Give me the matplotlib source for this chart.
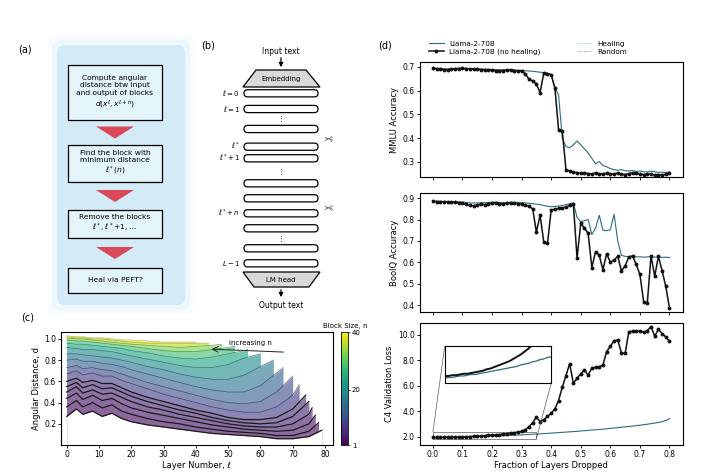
import numpy as np
import matplotlib
matplotlib.use("Agg")
import matplotlib.pyplot as plt
import matplotlib.colors as mcolors
from matplotlib.patches import FancyBboxPatch, Polygon, FancyArrowPatch
from matplotlib.lines import Line2D
from mpl_toolkits.axes_grid1.inset_locator import mark_inset

# ---------------- panel (d): Llama-2-70B, one point per dropped layer ----------------
n_layers = 80
frac_dropped = np.arange(0, 65) / n_layers

mmlu_no_heal = [0.694, 0.693, 0.692, 0.688, 0.686, 0.690, 0.692, 0.693, 0.694, 0.693,
                0.692, 0.691, 0.690, 0.689, 0.688, 0.687, 0.686, 0.684, 0.683, 0.685,
                0.686, 0.687, 0.685, 0.684, 0.683, 0.672, 0.648, 0.642, 0.628, 0.592,
                0.675, 0.671, 0.668, 0.612, 0.435, 0.432, 0.268, 0.262, 0.258, 0.255,
                0.252, 0.254, 0.251, 0.250, 0.253, 0.249, 0.251, 0.252, 0.248, 0.250,
                0.253, 0.249, 0.247, 0.251, 0.255, 0.252, 0.249, 0.247, 0.250, 0.248,
                0.246, 0.247, 0.245, 0.248, 0.252]
mmlu_heal = [0.695, 0.694, 0.694, 0.693, 0.692, 0.693, 0.694, 0.695, 0.694, 0.694,
             0.693, 0.693, 0.692, 0.691, 0.691, 0.690, 0.689, 0.689, 0.688, 0.688,
             0.689, 0.688, 0.687, 0.686, 0.686, 0.684, 0.683, 0.682, 0.680, 0.678,
             0.676, 0.674, 0.665, 0.612, 0.583, 0.400, 0.365, 0.360, 0.372, 0.388,
             0.372, 0.355, 0.338, 0.315, 0.292, 0.302, 0.285, 0.280, 0.272, 0.268,
             0.265, 0.268, 0.263, 0.262, 0.264, 0.260, 0.262, 0.259, 0.258, 0.261,
             0.259, 0.256, 0.257, 0.255, 0.258]

boolq_no_heal = [0.885, 0.884, 0.884, 0.883, 0.882, 0.881, 0.880, 0.879, 0.876, 0.871,
                 0.866, 0.864, 0.868, 0.872, 0.870, 0.874, 0.878, 0.879, 0.875, 0.872,
                 0.876, 0.879, 0.878, 0.875, 0.872, 0.868, 0.862, 0.850, 0.742, 0.820,
                 0.695, 0.688, 0.845, 0.848, 0.852, 0.855, 0.858, 0.866, 0.872, 0.620,
                 0.782, 0.760, 0.735, 0.575, 0.650, 0.632, 0.565, 0.640, 0.600, 0.610,
                 0.628, 0.560, 0.583, 0.625, 0.630, 0.590, 0.543, 0.416, 0.410, 0.630,
                 0.535, 0.628, 0.560, 0.487, 0.385]
boolq_heal = [0.886, 0.886, 0.885, 0.885, 0.884, 0.884, 0.883, 0.883, 0.882, 0.880,
              0.878, 0.877, 0.878, 0.879, 0.879, 0.880, 0.881, 0.881, 0.880, 0.879,
              0.880, 0.881, 0.881, 0.880, 0.879, 0.878, 0.876, 0.874, 0.872, 0.870,
              0.866, 0.862, 0.860, 0.861, 0.863, 0.866, 0.870, 0.874, 0.878, 0.810,
              0.790, 0.795, 0.800, 0.730, 0.760, 0.820, 0.750, 0.748, 0.752, 0.825,
              0.700, 0.632, 0.628, 0.626, 0.627, 0.625, 0.626, 0.624, 0.625, 0.626,
              0.624, 0.625, 0.623, 0.624, 0.622]

c4_no_heal = [1.95, 1.95, 1.96, 1.96, 1.97, 1.98, 1.98, 1.99, 2.00, 2.01,
              2.02, 2.04, 2.05, 2.07, 2.09, 2.11, 2.13, 2.15, 2.18, 2.21,
              2.24, 2.28, 2.32, 2.37, 2.42, 2.55, 2.80, 3.10, 3.55, 3.20,
              3.35, 3.60, 3.85, 4.20, 4.85, 5.90, 6.80, 7.75, 6.20, 6.60,
              6.95, 7.25, 6.85, 7.40, 7.45, 7.50, 7.65, 8.70, 9.10, 9.55,
              9.60, 8.60, 8.55, 10.25, 10.30, 10.28, 10.30, 10.20, 10.35, 10.65,
              9.90, 10.45, 10.10, 9.85, 9.50]
c4_heal = [1.92, 1.93, 1.93, 1.94, 1.95, 1.95, 1.96, 1.97, 1.97, 1.98,
           1.99, 2.00, 2.01, 2.02, 2.03, 2.04, 2.05, 2.06, 2.07, 2.08,
           2.10, 2.11, 2.12, 2.14, 2.15, 2.17, 2.18, 2.20, 2.21, 2.23,
           2.25, 2.27, 2.29, 2.31, 2.33, 2.35, 2.37, 2.39, 2.41, 2.43,
           2.46, 2.48, 2.50, 2.53, 2.55, 2.58, 2.60, 2.63, 2.66, 2.69,
           2.72, 2.75, 2.78, 2.81, 2.84, 2.88, 2.91, 2.95, 2.99, 3.03,
           3.08, 3.13, 3.19, 3.28, 3.42]

# ---------------- panel (c): angular distance d(l, n), read at these layers ----------------
# last value of every list is the curve end at l = 80 - n
ells = [0, 3, 5, 8, 11, 14, 17, 20, 25, 30, 35, 40, 45, 50, 55, 60, 65, 70, 75]
d_n1 = [0.27, 0.34, 0.29, 0.32, 0.27, 0.30, 0.25, 0.22, 0.19, 0.17, 0.15, 0.13, 0.11, 0.10, 0.09, 0.08, 0.06, 0.06, 0.08, 0.14]
d_n2 = [0.36, 0.42, 0.36, 0.40, 0.35, 0.38, 0.32, 0.29, 0.25, 0.22, 0.20, 0.17, 0.15, 0.13, 0.12, 0.11, 0.09, 0.09, 0.13, 0.21]
d_n3 = [0.44, 0.49, 0.43, 0.47, 0.42, 0.44, 0.39, 0.35, 0.31, 0.28, 0.25, 0.22, 0.19, 0.17, 0.15, 0.14, 0.13, 0.14, 0.20, 0.28]
d_n4 = [0.50, 0.55, 0.49, 0.52, 0.48, 0.49, 0.45, 0.41, 0.36, 0.33, 0.29, 0.26, 0.23, 0.20, 0.18, 0.17, 0.17, 0.20, 0.29, 0.35]
d_n5 = [0.55, 0.59, 0.54, 0.57, 0.53, 0.54, 0.50, 0.46, 0.41, 0.37, 0.33, 0.30, 0.26, 0.23, 0.21, 0.20, 0.21, 0.27, 0.41]
d_n6 = [0.60, 0.63, 0.59, 0.61, 0.58, 0.58, 0.54, 0.50, 0.45, 0.41, 0.37, 0.33, 0.30, 0.26, 0.24, 0.24, 0.26, 0.34, 0.47]
d_n8 = [0.67, 0.70, 0.66, 0.68, 0.65, 0.65, 0.61, 0.58, 0.53, 0.48, 0.44, 0.40, 0.36, 0.33, 0.31, 0.31, 0.36, 0.47, 0.57]
d_n10 = [0.73, 0.75, 0.72, 0.73, 0.71, 0.70, 0.67, 0.64, 0.59, 0.55, 0.51, 0.47, 0.43, 0.40, 0.39, 0.41, 0.50, 0.65]
d_n13 = [0.80, 0.81, 0.79, 0.79, 0.77, 0.76, 0.74, 0.71, 0.67, 0.63, 0.59, 0.55, 0.52, 0.50, 0.50, 0.56, 0.68, 0.73]
d_n16 = [0.86, 0.86, 0.85, 0.84, 0.83, 0.82, 0.80, 0.78, 0.74, 0.71, 0.67, 0.64, 0.62, 0.62, 0.66, 0.74, 0.80]
d_n20 = [0.92, 0.91, 0.90, 0.90, 0.89, 0.88, 0.86, 0.84, 0.81, 0.78, 0.75, 0.73, 0.73, 0.76, 0.82, 0.86]
d_n24 = [0.96, 0.95, 0.95, 0.94, 0.93, 0.92, 0.91, 0.89, 0.87, 0.84, 0.82, 0.81, 0.83, 0.86, 0.89, 0.90]
d_n28 = [0.99, 0.98, 0.98, 0.97, 0.96, 0.95, 0.94, 0.93, 0.91, 0.89, 0.88, 0.88, 0.90, 0.92, 0.93]
d_n32 = [1.01, 1.00, 1.00, 0.99, 0.98, 0.97, 0.96, 0.95, 0.94, 0.93, 0.92, 0.93, 0.94, 0.95]
d_n36 = [1.02, 1.01, 1.01, 1.00, 1.00, 0.99, 0.98, 0.97, 0.96, 0.96, 0.96, 0.96, 0.96]
d_n40 = [1.03, 1.02, 1.02, 1.01, 1.01, 1.00, 0.99, 0.99, 0.98, 0.97, 0.97, 0.97]
curves = [(1, d_n1), (2, d_n2), (3, d_n3), (4, d_n4), (5, d_n5), (6, d_n6), (8, d_n8),
          (10, d_n10), (13, d_n13), (16, d_n16), (20, d_n20), (24, d_n24),
          (28, d_n28), (32, d_n32), (36, d_n36), (40, d_n40)]

flow_texts = ["Compute angular\ndistance btw input\nand output of blocks\n$d(x^{\\ell}, x^{\\ell+n})$",
              "Find the block with\nminimum distance\n$\\ell^*(n)$",
              "Remove the blocks\n$\\ell^*, \\ell^*\\!+\\!1, \\ldots$",
              "Heal via PEFT?"]
layer_labels = {0: "$\\ell=0$", 1: "$\\ell=1$", 3: "$\\ell^*$", 4: "$\\ell^*\\!+1$",
                7: "$\\ell^*\\!+n$", 10: "$L-1$"}

fs = 5.5
fig = plt.figure(figsize=(7.08, 4.75), dpi=100)

# sketch layer in pixel coordinates for (a) and (b)
sk = fig.add_axes([0, 0, 1, 1])
sk.set_xlim(0, 708)
sk.set_ylim(475, 0)
sk.axis("off")

# ---- (a) flow chart ----
for pad, a in [(9, 0.12), (5, 0.25), (0, 0.9)]:
    sk.add_patch(FancyBboxPatch((57 - pad, 45 - pad), 128 + 2 * pad, 260 + 2 * pad,
                                boxstyle="round,pad=0,rounding_size=8",
                                fc="#cfeaf7", ec="none", alpha=a))
box_tops = [65, 145, 210, 268]
box_bots = [120, 182, 238, 293]
for t, b, txt in zip(box_tops, box_bots, flow_texts):
    sk.add_patch(FancyBboxPatch((68, t), 94, b - t, boxstyle="square,pad=0",
                                fc="#e4f4fb", ec="black", lw=0.9))
    sk.text(115, (t + b) / 2, txt, ha="center", va="center", fontsize=5.4, linespacing=1.25)
for i in range(3):
    ym = (box_bots[i] + box_tops[i + 1]) / 2
    sk.add_patch(Polygon([[96, ym - 6], [134, ym - 6], [115, ym + 6]], closed=True,
                         fc="#d9495a", ec="none"))
sk.text(25, 50, "(a)", fontsize=7, ha="center", va="center")

# ---- (b) network schematic ----
sk.text(208, 45, "(b)", fontsize=7, ha="center", va="center")
sk.text(281, 51, "Input text", fontsize=fs, ha="center", va="center")
sk.add_patch(FancyArrowPatch((281, 55), (281, 70), arrowstyle="-|>", mutation_scale=6,
                             color="black", lw=0.9))
sk.add_patch(Polygon([[256, 70], [306, 70], [320, 87], [243, 87]], closed=True,
                     fc="#d9d9d9", ec="black", lw=0.9))
sk.text(281, 79, "Embedding", fontsize=5, ha="center", va="center")
layer_y = [93.3, 109, 129, 146.7, 158.3, 183.3, 198.3, 213.3, 228.3, 248.3, 263.3]
for i, y in enumerate(layer_y):
    sk.add_patch(FancyBboxPatch((244, y - 3.6), 74, 7.2,
                                boxstyle="round,pad=0,rounding_size=3.6",
                                fc="white", ec="black", lw=0.9))
    if i in layer_labels:
        sk.text(240, y, layer_labels[i], fontsize=5, ha="right", va="center")
for y in [118.5, 171, 238.5]:
    sk.text(281, y, "\u22ee", fontsize=5, ha="center", va="center")
for y in [136, 205]:
    sk.text(328, y, "\u2702", fontsize=8, ha="center", va="center", rotation=180,
            color="#444444")
sk.add_patch(Polygon([[243, 272], [320, 272], [309, 287], [254, 287]], closed=True,
                     fc="#d9d9d9", ec="black", lw=0.9))
sk.text(281, 280, "LM head", fontsize=5, ha="center", va="center")
sk.add_patch(FancyArrowPatch((281, 287), (281, 300), arrowstyle="-|>", mutation_scale=6,
                             color="black", lw=0.9))
sk.text(281, 306, "Output text", fontsize=fs, ha="center", va="center")

# ---- (c) angular distance ----
axc = fig.add_axes([0.086, 0.063, 0.384, 0.238])
cmap = plt.get_cmap("viridis")
norm = mcolors.Normalize(1, 40)
for n, vals in sorted(curves, key=lambda c: -c[0]):
    xs = [l for l in ells if l < n_layers - n] + [n_layers - n]
    col = np.array(cmap(norm(n))[:3]) * 0.62 + 0.38
    axc.fill_between(xs, 0, vals, color=col, lw=0, zorder=1)
xs1 = [l for l in ells if l < n_layers - 1] + [n_layers - 1]
axc.fill_between(xs1, 0, d_n1, color="white", lw=0, zorder=1)
for n, vals in curves:
    xs = [l for l in ells if l < n_layers - n] + [n_layers - n]
    if n <= 6:
        axc.plot(xs, vals, color="#1a1a1a", lw=0.9, zorder=3)
    else:
        axc.plot(xs, vals, color=np.array(cmap(norm(n))[:3]) * 0.7, lw=0.5, alpha=0.8, zorder=2)
axc.annotate("", xy=(44, 0.905), xytext=(68, 0.875),
             arrowprops=dict(arrowstyle="->", lw=0.7, color="#222222"))
axc.text(57, 0.965, "increasing n", fontsize=5, ha="center", va="center")
axc.set_xlim(-1.8, 82.4)
axc.set_ylim(0, 1.065)
axc.set_xticks(range(0, 81, 10))
axc.set_yticks([0.2, 0.4, 0.6, 0.8, 1.0])
axc.tick_params(labelsize=fs, length=2, width=0.6, pad=1.5)
axc.set_xlabel("Layer Number, \u2113", fontsize=6, labelpad=1.5)
axc.set_ylabel("Angular Distance, d", fontsize=6, labelpad=2)
cax = fig.add_axes([0.482, 0.063, 0.0099, 0.238])
sm = plt.cm.ScalarMappable(norm=norm, cmap=cmap)
cb = fig.colorbar(sm, cax=cax, ticks=[1, 20, 40])
cb.ax.tick_params(labelsize=5, length=1.5, width=0.5, pad=1)
cb.outline.set_linewidth(0.6)
cb.ax.set_title("Block Size, n", fontsize=5, pad=3)
sk.text(28, 318, "(c)", fontsize=7, ha="center", va="center")

# ---- (d) performance vs fraction dropped ----
heal_col = "#2c6e73"
noheal_col = "#111111"
ax1 = fig.add_axes([0.593, 0.627, 0.371, 0.242])
ax2 = fig.add_axes([0.593, 0.343, 0.371, 0.251])
ax3 = fig.add_axes([0.593, 0.063, 0.371, 0.257])
panels = [(ax1, mmlu_heal, mmlu_no_heal), (ax2, boolq_heal, boolq_no_heal),
          (ax3, c4_heal, c4_no_heal)]
for ax, heal, noheal in panels:
    ax.plot(frac_dropped, heal, color=heal_col, lw=0.8, zorder=2)
    ax.plot(frac_dropped, noheal, color=noheal_col, lw=1.1, marker="o", ms=1.8, zorder=3)
    ax.set_xlim(-0.044, 0.844)
    ax.set_xticks(np.round(np.arange(0, 0.81, 0.1), 1))
    ax.tick_params(labelsize=fs, length=2, width=0.6, pad=1.5)
    for s in ax.spines.values():
        s.set_linewidth(0.8)
ax1.set_xticklabels([])
ax2.set_xticklabels([])
ax1.set_ylim(0.236, 0.72)
ax1.set_yticks([0.3, 0.4, 0.5, 0.6, 0.7])
ax2.set_ylim(0.367, 0.925)
ax2.set_yticks([0.4, 0.5, 0.6, 0.7, 0.8, 0.9])
ax3.set_ylim(1.35, 10.94)
ax3.set_yticks([2, 4, 6, 8, 10])
ax3.set_yticklabels(["2.0", "4.0", "6.0", "8.0", "10.0"])
ax1.set_ylabel("MMLU Accuracy", fontsize=6, labelpad=3)
ax2.set_ylabel("BoolQ Accuracy", fontsize=6, labelpad=3)
ax3.set_ylabel("C4 Validation Loss", fontsize=6, labelpad=3)
ax3.set_xlabel("Fraction of Layers Dropped", fontsize=6, labelpad=1.5)

axins = ax3.inset_axes([0.04, 6.2, 0.36, 2.9], transform=ax3.transData)
axins.plot(frac_dropped, c4_heal, color=heal_col, lw=0.9)
axins.plot(frac_dropped, c4_no_heal, color=noheal_col, lw=1.4)
axins.set_xlim(0.0, 0.35)
axins.set_ylim(1.85, 2.35)
axins.set_xticks([])
axins.set_yticks([])
for s in axins.spines.values():
    s.set_linewidth(0.8)
mark_inset(ax3, axins, loc1=2, loc2=4, fc="none", ec="0.35", lw=0.5)

handles = [Line2D([], [], color=heal_col, lw=0.8),
           Line2D([], [], color=noheal_col, lw=1.1, marker="o", ms=1.8),
           Line2D([], [], color="#cfe6ea", lw=0.8),
           Line2D([], [], color="#bbbbbb", lw=0.8, ls="--")]
labels = ["Llama-2-70B", "Llama-2-70B (no healing)", "Healing", "Random"]
fig.legend(handles, labels, loc="lower left", bbox_to_anchor=(0.60, 0.875), ncol=2,
           fontsize=5.2, frameon=False, columnspacing=5, handlelength=2.0,
           labelspacing=0.25, borderpad=0.1)
sk.text(385, 46, "(d)", fontsize=7, ha="center", va="center")

fig.savefig("out.png", dpi=100)
